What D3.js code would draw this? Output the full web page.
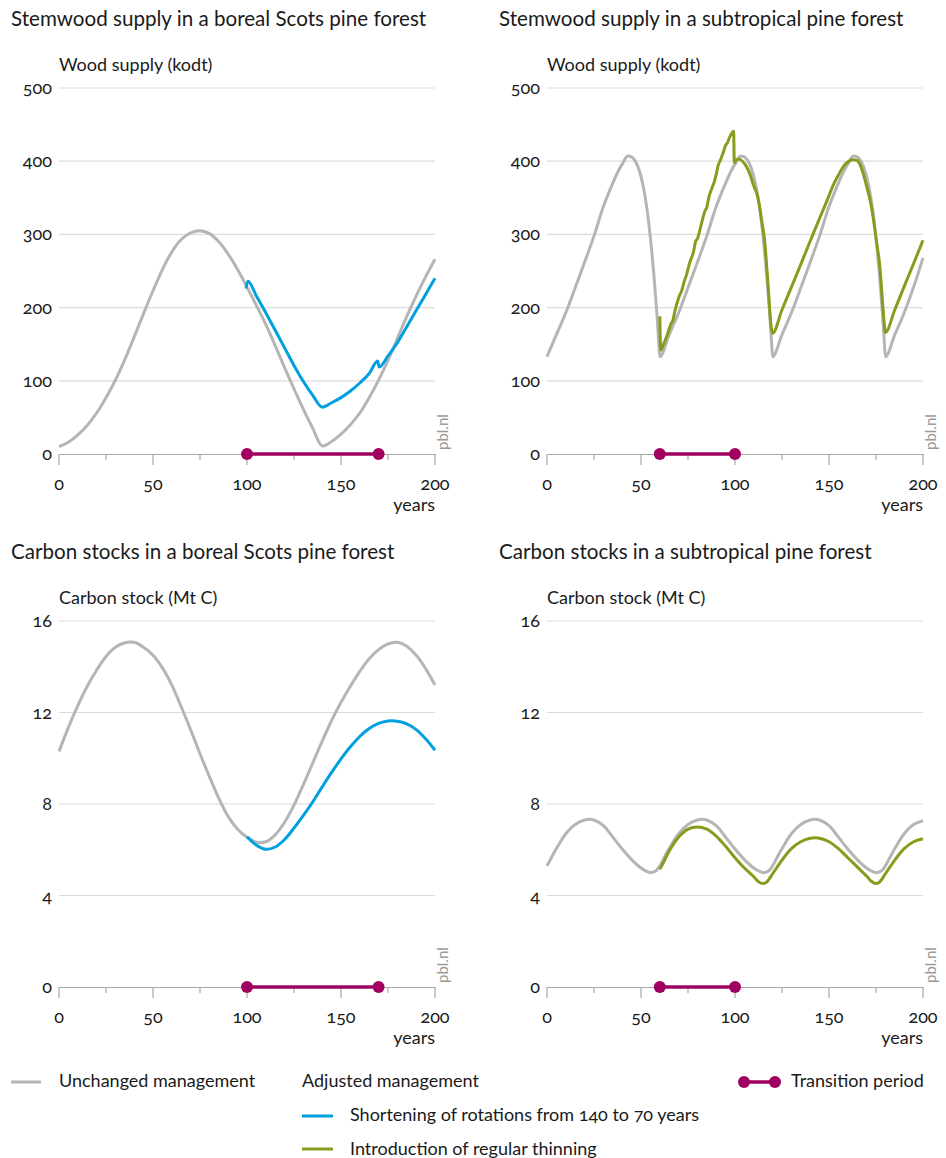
<!DOCTYPE html>
<html><head><meta charset="utf-8">
<script src="https://cdn.jsdelivr.net/npm/d3@7"></script>
<style>
body{margin:0;background:#fff;}
text{font-family:Lato,"Open Sans",sans-serif;fill:#1a1a1a;font-variant-numeric:oldstyle-nums;font-feature-settings:"onum" 1;}
</style></head><body>
<svg id="c" width="946" height="1158"></svg>
<script>
// ---------- data ----------
const xTicks = [0,25,50,75,100,125,150,175,200];
const xTickLabels = [0,50,100,150,200];
const supplyTicks = [0,100,200,300,400,500];
const carbonTicks = [0,4,8,12,16];

const borealTransition = [100,170];
const subtropTransition = [60,100];

// Stemwood supply, boreal (kodt)
const borealSupplyUnchangedYears = [0,5,10,15,20,25,30,35,40,45,50,55,60,65,70,75,80,85,90,95,100,105,110,115,120,125,130,135,140,145,150,155,160,165,170,175,180,185,190,195,200];
const borealSupplyUnchanged = [10,16,26,39,56,77,101,129,160,192,223,252,276,293,302,305,301,290,273,252,228,203,177,148,118,89,61,35,11,17,27,40,56,77,101,128,158,188,216,242,266];
const borealSupplyAdjustedYears = [99.5,100.5,105,110,115,120,125,130,135,140,145,150,155,160,165,169.5,170.3,175,180,185,190,195,200];
const borealSupplyAdjusted = [226,236,216,193,169,145,121,99,80,64,70,77,86,97,110,127,119,134,152,174,196,218,240];

// Stemwood supply, subtropical (kodt)
const subtropSupplyUnchangedYears = [0,5,10,15,20,25,30,35,38,40,43,45,47,49,51,53,55,57,58.5,59.5,
  60,65,70,75,80,85,90,95,98,100,103,105,107,109,111,113,115,117,118.5,119.5,
  120,125,130,135,140,145,150,155,158,160,163,165,167,169,171,173,175,177,178.5,179.5,
  180,185,190,195,200];
const subtropSupplyUnchanged = [133,163,193,227,262,298,338,370,387,396,407,406,400,388,368,338,295,240,190,150,
  133,163,193,227,262,298,338,370,387,396,407,406,400,388,368,338,295,240,190,150,
  133,163,193,227,262,298,338,370,387,396,407,406,400,388,368,338,295,240,190,150,
  133,163,193,228,268];
const subtropSupplyAdjustedYears = [60,60.5,62,64,66,67,68,70,72,73,74,76,78,79,80,82,84,85,86,88,89,90,91,92,94,95,96,97,99.3,99.6,101,102,104,106,108,110,112,113,114,115.7,117.5,119.3,120,125,130,135,140,145,150,152,155,158,160,162.7,165,166,168,170,172,173.4,175,177,179.2,180,185,190,195,200];
const subtropSupplyAdjusted = [188,142,150,163,178,183,195,213,226,236,243,262,277,290,294,313,332,337,350,365,372,382,394,400,414,422,425,432,441,398,402,403,400,393,382,366,352,339,322,293,234,172,165,197,228,259,291,322,353,366,381,394,399,402,401,398,385,366,345,325,295,257,184,166,197,229,260,292];

// Carbon stock, boreal (Mt C)
const borealCarbonUnchangedYears = [0,5,10,15,20,25,30,35,40,45,50,55,60,65,70,75,80,85,90,95,100,105,110,115,120,125,130,135,140,145,150,155,160,165,170,175,180,185,190,195,200];
const borealCarbonUnchanged = [10.3,11.35,12.3,13.15,13.85,14.45,14.85,15.05,15.07,14.85,14.5,13.95,13.2,12.25,11.25,10.2,9.2,8.25,7.45,6.9,6.55,6.33,6.35,6.65,7.2,7.95,8.85,9.8,10.75,11.65,12.45,13.15,13.8,14.35,14.75,15.0,15.07,14.9,14.5,13.92,13.2];
const borealCarbonAdjustedYears = [100,105,110,115,120,125,130,135,140,145,150,155,160,165,170,175,180,185,190,195,200];
const borealCarbonAdjusted = [6.57,6.2,6.02,6.12,6.45,6.95,7.5,8.1,8.75,9.38,9.97,10.5,10.95,11.3,11.52,11.63,11.62,11.5,11.25,10.85,10.35];

// Carbon stock, subtropical (Mt C)
const subtropCarbonUnchangedYears = [0,2,5,10,15,20,22.5,25,30,35,40,45,50,53,55.5,58,
  60,62,65,70,75,80,82.5,85,90,95,100,105,110,113,115.5,118,
  120,122,125,130,135,140,142.5,145,150,155,160,165,170,173,175.5,178,
  180,182,185,190,195,200];
const subtropCarbonUnchanged = [5.3,5.6,6.05,6.7,7.1,7.3,7.33,7.3,7.05,6.55,6.03,5.57,5.2,5.05,5.0,5.08,
  5.3,5.6,6.05,6.7,7.1,7.3,7.33,7.3,7.05,6.55,6.03,5.57,5.2,5.05,5.0,5.08,
  5.3,5.6,6.05,6.7,7.1,7.3,7.33,7.3,7.05,6.55,6.03,5.57,5.2,5.05,5.0,5.08,
  5.3,5.6,6.05,6.7,7.1,7.27];
const subtropCarbonAdjustedYears = [60,62,65,70,75,80,85,90,95,100,105,110,112.5,115,117,120,125,130,135,140,143,145,150,155,160,165,170,172.5,175,177,180,185,190,195,200];
const subtropCarbonAdjusted = [5.15,5.45,5.95,6.55,6.9,7.0,6.9,6.6,6.15,5.65,5.2,4.82,4.6,4.52,4.6,4.95,5.55,6.05,6.35,6.5,6.52,6.5,6.35,6.05,5.65,5.25,4.85,4.62,4.52,4.6,4.95,5.55,6.05,6.35,6.48];

// ---------- style ----------
const C = {gray:"#b5b5b5", blue:"#009fe0", green:"#8a9a1c", magenta:"#a0005f", grid:"#dcdcdc", axis:"#a8a8a8", text:"#1a1a1a"};
const FS = 18;

const svg = d3.select("#c");

function panel(o){
  const x = d3.scaleLinear().domain([0,200]).range([o.x0, o.x0+376]);
  const y = d3.scaleLinear().domain([0, o.yTicks[o.yTicks.length-1]]).range([o.yBase, o.yBase-366]);
  const g = svg.append("g");
  g.append("text").attr("x", o.x0-48).attr("y", o.yBase-428).attr("font-size",20.6).text(o.title);
  g.append("text").attr("x", o.x0).attr("y", o.yBase-383).attr("font-size",FS).text(o.yLabel);
  // grid
  g.selectAll("line.grid").data(o.yTicks.filter(d=>d>0)).enter().append("line")
    .attr("x1", x(0)).attr("x2", x(200)).attr("y1", d=>y(d)).attr("y2", d=>y(d))
    .attr("stroke", C.grid).attr("stroke-width",1.2);
  g.selectAll("text.yt").data(o.yTicks).enter().append("text")
    .attr("x", o.x0-7).attr("y", d=>y(d)+6).attr("text-anchor","end").attr("font-size",FS).text(d=>d);
  // x axis
  const ax = d3.axisBottom(x).tickValues(xTicks).tickSize(0).tickFormat("");
  const axg = g.append("g").attr("transform",`translate(0,${o.yBase})`).call(ax);
  axg.select(".domain").attr("stroke", C.axis).attr("stroke-width",1.2);
  g.selectAll("line.xt").data(xTicks).enter().append("line")
    .attr("x1", d=>x(d)).attr("x2", d=>x(d)).attr("y1", o.yBase).attr("y2", d=> o.yBase + (d%50===0?11:6))
    .attr("stroke", C.axis).attr("stroke-width",1.2);
  g.selectAll("text.xl").data(xTickLabels).enter().append("text")
    .attr("x", d=>x(d)).attr("y", o.yBase+36).attr("text-anchor","middle").attr("font-size",FS).text(d=>d);
  g.append("text").attr("x", x(200)).attr("y", o.yBase+57).attr("text-anchor","end").attr("font-size",FS).text("years");
  g.append("text").attr("transform",`translate(${x(200)+13},${o.yBase-4}) rotate(-90)`)
    .attr("font-size",15).style("fill","#9a9a9a").text("pbl.nl");
  // lines
  const baseLine = d3.line().x(d=>x(d[0])).y(d=>y(d[1])).curve(o.baseCurve);
  const adjLine = d3.line().x(d=>x(d[0])).y(d=>y(d[1])).curve(o.adjCurve);
  g.append("path").datum(d3.zip(o.baseYears,o.baseVals)).attr("d",baseLine)
    .attr("fill","none").attr("stroke",C.gray).attr("stroke-width",3);
  g.append("path").datum(d3.zip(o.adjYears,o.adjVals)).attr("d",adjLine)
    .attr("fill","none").attr("stroke",o.adjColor).attr("stroke-width",3).attr("stroke-linejoin","round");
  // transition
  g.append("line").attr("x1",x(o.trans[0])).attr("x2",x(o.trans[1])).attr("y1",y(0)).attr("y2",y(0))
    .attr("stroke",C.magenta).attr("stroke-width",3.5);
  g.selectAll("circle").data(o.trans).enter().append("circle")
    .attr("cx",d=>x(d)).attr("cy",y(0)).attr("r",6).attr("fill",C.magenta);
}

const smooth = d3.curveCatmullRom.alpha(0.5);
const mono = d3.curveMonotoneX;
panel({x0:59,yBase:454,yTicks:supplyTicks,title:"Stemwood supply in a boreal Scots pine forest",yLabel:"Wood supply (kodt)",baseCurve:smooth,adjCurve:mono,
  baseYears:borealSupplyUnchangedYears,baseVals:borealSupplyUnchanged,adjYears:borealSupplyAdjustedYears,adjVals:borealSupplyAdjusted,adjColor:C.blue,trans:borealTransition});
panel({x0:547,yBase:454,yTicks:supplyTicks,title:"Stemwood supply in a subtropical pine forest",yLabel:"Wood supply (kodt)",baseCurve:mono,adjCurve:mono,
  baseYears:subtropSupplyUnchangedYears,baseVals:subtropSupplyUnchanged,adjYears:subtropSupplyAdjustedYears,adjVals:subtropSupplyAdjusted,adjColor:C.green,trans:subtropTransition});
panel({x0:59,yBase:987,yTicks:carbonTicks,title:"Carbon stocks in a boreal Scots pine forest",yLabel:"Carbon stock (Mt C)",baseCurve:smooth,adjCurve:smooth,
  baseYears:borealCarbonUnchangedYears,baseVals:borealCarbonUnchanged,adjYears:borealCarbonAdjustedYears,adjVals:borealCarbonAdjusted,adjColor:C.blue,trans:borealTransition});
panel({x0:547,yBase:987,yTicks:carbonTicks,title:"Carbon stocks in a subtropical pine forest",yLabel:"Carbon stock (Mt C)",baseCurve:smooth,adjCurve:smooth,
  baseYears:subtropCarbonUnchangedYears,baseVals:subtropCarbonUnchanged,adjYears:subtropCarbonAdjustedYears,adjVals:subtropCarbonAdjusted,adjColor:C.green,trans:subtropTransition});

// ---------- legend ----------
const lg = svg.append("g");
lg.append("line").attr("x1",11).attr("x2",41).attr("y1",1082).attr("y2",1082).attr("stroke",C.gray).attr("stroke-width",3);
lg.append("text").attr("x",59).attr("y",1087).attr("font-size",FS).text("Unchanged management");
lg.append("text").attr("x",302).attr("y",1087).attr("font-size",FS).text("Adjusted management");
lg.append("line").attr("x1",302).attr("x2",333).attr("y1",1116).attr("y2",1116).attr("stroke",C.blue).attr("stroke-width",3);
lg.append("text").attr("x",350).attr("y",1121).attr("font-size",FS).text("Shortening of rotations from 140 to 70 years");
lg.append("line").attr("x1",302).attr("x2",333).attr("y1",1149).attr("y2",1149).attr("stroke",C.green).attr("stroke-width",3);
lg.append("text").attr("x",350).attr("y",1155).attr("font-size",FS).text("Introduction of regular thinning");
lg.append("line").attr("x1",744).attr("x2",775).attr("y1",1082).attr("y2",1082).attr("stroke",C.magenta).attr("stroke-width",3.5);
lg.selectAll("circle.lg").data([744,775]).enter().append("circle").attr("cx",d=>d).attr("cy",1082).attr("r",6).attr("fill",C.magenta);
lg.append("text").attr("x",791).attr("y",1087).attr("font-size",FS).text("Transition period");
</script>
</body></html>
